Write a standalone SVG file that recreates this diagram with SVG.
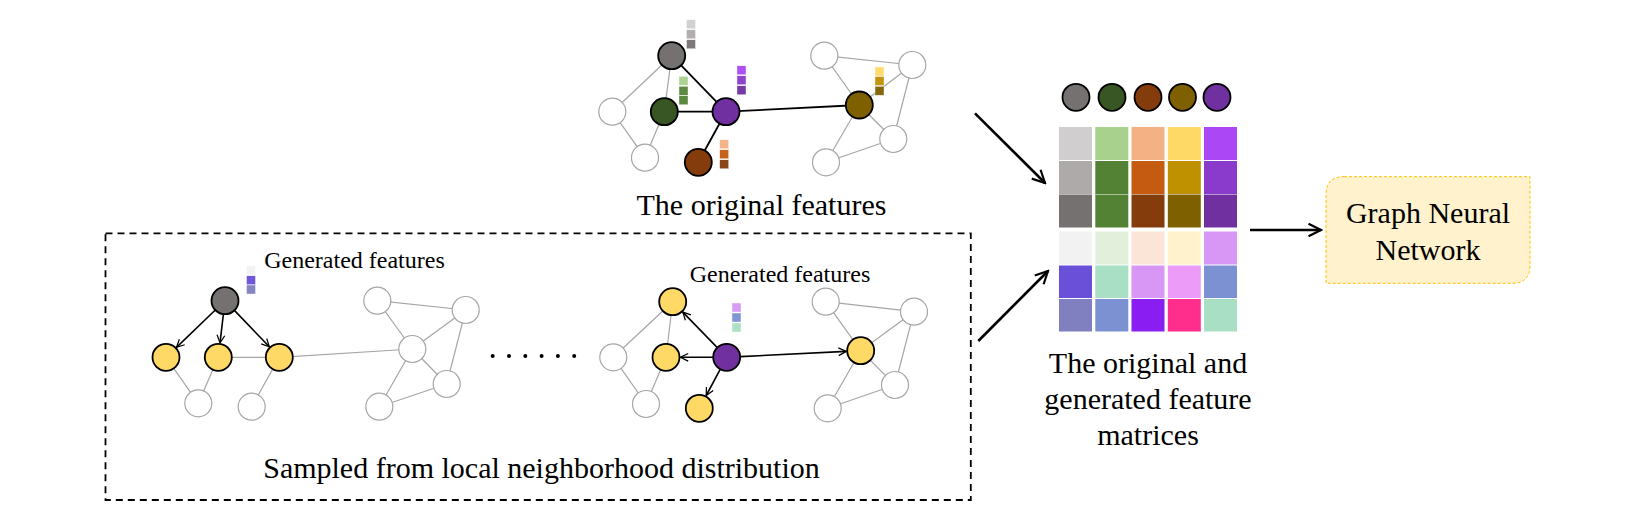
<svg xmlns="http://www.w3.org/2000/svg" width="1634" height="526" viewBox="0 0 1634 526" font-family="'Liberation Serif', 'Times New Roman', Tinos, 'DejaVu Serif', serif">
<defs>
<style>
text{font-family:'Liberation Serif','Times New Roman',Tinos,'DejaVu Serif',serif;fill:#000;text-anchor:middle}
.big{font-size:30px}
.small{font-size:24px}
.e{stroke:#a6a6a6;stroke-width:1.2;fill:none}
.k{stroke:#000;stroke-width:1.8;fill:none}
.n{stroke:#000;stroke-width:1.8}
.o{fill:#fff;stroke:#a6a6a6;stroke-width:1.2}
.a{stroke:#000;stroke-width:1.6;fill:none;marker-end:url(#v)}
.A{stroke:#000;stroke-width:2.6;fill:none;marker-end:url(#V)}
.f{stroke:#fff;stroke-width:0.4;opacity:0.95}
</style>
<marker id="v" viewBox="0 0 10 10" refX="9" refY="5" markerWidth="6" markerHeight="6" orient="auto" markerUnits="strokeWidth">
<path d="M1,1 L9,5 L1,9" fill="none" stroke="#000" stroke-width="1.3"/>
</marker>
<marker id="V" viewBox="0 0 10 10" refX="9" refY="5" markerWidth="6" markerHeight="6" orient="auto" markerUnits="strokeWidth">
<path d="M1,1 L9,5 L1,9" fill="none" stroke="#000" stroke-width="1.4"/>
</marker>
</defs>
<rect width="1634" height="526" fill="#fff"/>

<g id="connectors">
<line class="e" x1="671.7" y1="55.7" x2="612.3" y2="111.7"/>
<line class="e" x1="671.7" y1="55.7" x2="664.3" y2="111.7"/>
<line class="e" x1="612.3" y1="111.7" x2="645" y2="157.7"/>
<line class="e" x1="645" y1="157.7" x2="664.3" y2="111.7"/>
<line class="k" x1="671.7" y1="55.7" x2="726" y2="111.7"/>
<line class="k" x1="664.3" y1="111.7" x2="726" y2="111.7"/>
<line class="k" x1="726" y1="111.7" x2="698.3" y2="162.3"/>
<line class="k" x1="726" y1="111.7" x2="859.3" y2="105"/>
<line class="e" x1="824.3" y1="55.7" x2="912.3" y2="65"/>
<line class="e" x1="824.3" y1="55.7" x2="859.3" y2="105"/>
<line class="e" x1="912.3" y1="65" x2="859.3" y2="105"/>
<line class="e" x1="912.3" y1="65" x2="893.3" y2="139"/>
<line class="e" x1="859.3" y1="105" x2="893.3" y2="139"/>
<line class="e" x1="859.3" y1="105" x2="826" y2="162.3"/>
<line class="e" x1="826" y1="162.3" x2="893.3" y2="139"/>
<line class="e" x1="166" y1="357.3" x2="198.3" y2="403.3"/>
<line class="e" x1="218.3" y1="357.3" x2="198.3" y2="403.3"/>
<line class="e" x1="218.3" y1="357.3" x2="279.3" y2="357.3"/>
<line class="e" x1="279.3" y1="357.3" x2="251.7" y2="406.7"/>
<line class="e" x1="279.3" y1="357.3" x2="412.3" y2="349"/>
<line class="e" x1="377.3" y1="300.7" x2="465.7" y2="310"/>
<line class="e" x1="377.3" y1="300.7" x2="412.3" y2="349"/>
<line class="e" x1="465.7" y1="310" x2="412.3" y2="349"/>
<line class="e" x1="465.7" y1="310" x2="446.7" y2="384"/>
<line class="e" x1="412.3" y1="349" x2="446.7" y2="384"/>
<line class="e" x1="412.3" y1="349" x2="379.3" y2="406.7"/>
<line class="e" x1="379.3" y1="406.7" x2="446.7" y2="384"/>
<line class="a" x1="215.3" y1="310" x2="176.5" y2="347.3"/>
<line class="a" x1="223.4" y1="314.1" x2="220" y2="342.9"/>
<line class="a" x1="234.4" y1="310.4" x2="269.3" y2="346.8"/>
<line class="e" x1="613.3" y1="357.3" x2="672.7" y2="301.7"/>
<line class="e" x1="613.3" y1="357.3" x2="646" y2="404"/>
<line class="e" x1="672.7" y1="301.7" x2="666" y2="357.3"/>
<line class="e" x1="646" y1="404" x2="666" y2="357.3"/>
<line class="e" x1="825.7" y1="301.7" x2="914" y2="311.7"/>
<line class="e" x1="825.7" y1="301.7" x2="860.7" y2="350.7"/>
<line class="e" x1="914" y1="311.7" x2="860.7" y2="350.7"/>
<line class="e" x1="914" y1="311.7" x2="895" y2="385"/>
<line class="e" x1="860.7" y1="350.7" x2="895" y2="385"/>
<line class="e" x1="860.7" y1="350.7" x2="827.7" y2="408.3"/>
<line class="e" x1="827.7" y1="408.3" x2="895" y2="385"/>
<line class="a" x1="717.3" y1="347.6" x2="682.8" y2="312.1"/>
<line class="a" x1="713.2" y1="357.3" x2="680.5" y2="357.3"/>
<line class="a" x1="720.3" y1="369.2" x2="706.2" y2="395.5"/>
<line class="a" x1="740.2" y1="356.6" x2="846.2" y2="351.4"/>
<line class="A" x1="975" y1="113.3" x2="1045" y2="183"/>
<line class="A" x1="978.3" y1="341" x2="1048" y2="271"/>
<line class="A" x1="1250" y1="230" x2="1321" y2="230"/>
</g>

<g id="original-graph">
<circle class="o" cx="612.3" cy="111.7" r="13.5"/>
<circle class="o" cx="645" cy="157.7" r="13.5"/>
<circle class="o" cx="824.3" cy="55.7" r="13.5"/>
<circle class="o" cx="912.3" cy="65" r="13.5"/>
<circle class="o" cx="893.3" cy="139" r="13.5"/>
<circle class="o" cx="826" cy="162.3" r="13.5"/>
<circle class="n" cx="671.7" cy="55.7" r="13.5" fill="#767171"/>
<circle class="n" cx="664.3" cy="111.7" r="13.5" fill="#375623"/>
<circle class="n" cx="726" cy="111.7" r="13.5" fill="#7030a0"/>
<circle class="n" cx="698.3" cy="162.3" r="13.5" fill="#843c0c"/>
<circle class="n" cx="859.3" cy="105" r="13.5" fill="#7f6000"/>
<g id="feat-gray">
<rect class="f" x="686.5" y="19.8" width="9" height="9" fill="#d0cece"/>
<rect class="f" x="686.5" y="29.8" width="9" height="9" fill="#aeaaaa"/>
<rect class="f" x="686.5" y="39.8" width="9" height="9" fill="#767171"/>
</g>
<g id="feat-green">
<rect class="f" x="679" y="76.3" width="9" height="9" fill="#a9d18e"/>
<rect class="f" x="679" y="86.3" width="9" height="9" fill="#548235"/>
<rect class="f" x="679" y="95.8" width="9" height="9" fill="#548235"/>
</g>
<g id="feat-purple">
<rect class="f" x="737" y="65.8" width="9" height="9" fill="#ab47f5"/>
<rect class="f" x="737" y="75.8" width="9" height="9" fill="#8b3bcc"/>
<rect class="f" x="737" y="85.8" width="9" height="9" fill="#7030a0"/>
</g>
<g id="feat-brown">
<rect class="f" x="719.7" y="139.8" width="9" height="9" fill="#f4b183"/>
<rect class="f" x="719.7" y="149.8" width="9" height="9" fill="#c55a11"/>
<rect class="f" x="719.7" y="159.8" width="9" height="9" fill="#843c0c"/>
</g>
<g id="feat-olive">
<rect class="f" x="875" y="67" width="9" height="9" fill="#ffd966"/>
<rect class="f" x="875" y="76.5" width="9" height="9" fill="#bf9000"/>
<rect class="f" x="875" y="86.3" width="9" height="9" fill="#7f6000"/>
</g>
<text class="big" x="761.5" y="215">The original features</text>
</g>

<g id="sampled-box">
<rect x="105.5" y="233.3" width="865.3" height="266.7" fill="none" stroke="#000" stroke-width="1.8" stroke-dasharray="7,5"/>
<text class="big" x="541.5" y="478">Sampled from local neighborhood distribution</text>
</g>

<g id="sampled-left">
<circle class="o" cx="198.3" cy="403.3" r="13.5"/>
<circle class="o" cx="251.7" cy="406.7" r="13.5"/>
<circle class="o" cx="377.3" cy="300.7" r="13.5"/>
<circle class="o" cx="465.7" cy="310" r="13.5"/>
<circle class="o" cx="412.3" cy="349" r="13.5"/>
<circle class="o" cx="446.7" cy="384" r="13.5"/>
<circle class="o" cx="379.3" cy="406.7" r="13.5"/>
<circle class="n" cx="225" cy="300.7" r="13.5" fill="#767171"/>
<circle class="n" cx="166" cy="357.3" r="13.5" fill="#ffd966"/>
<circle class="n" cx="218.3" cy="357.3" r="13.5" fill="#ffd966"/>
<circle class="n" cx="279.3" cy="357.3" r="13.5" fill="#ffd966"/>
<rect class="f" x="246.5" y="265.8" width="9" height="9" fill="#f2f2f2"/>
<rect class="f" x="246.5" y="275.8" width="9" height="9" fill="#6a50d8"/>
<rect class="f" x="246.5" y="285" width="9" height="9" fill="#8080c0"/>
<text class="small" x="354.5" y="268">Generated features</text>
</g>

<g id="dots" fill="#000">
<circle cx="492.7" cy="356" r="2"/>
<circle cx="509" cy="356" r="2"/>
<circle cx="525.3" cy="356" r="2"/>
<circle cx="541.6" cy="356" r="2"/>
<circle cx="557.9" cy="356" r="2"/>
<circle cx="574.2" cy="356" r="2"/>
</g>

<g id="sampled-right">
<circle class="o" cx="613.3" cy="357.3" r="13.5"/>
<circle class="o" cx="646" cy="404" r="13.5"/>
<circle class="o" cx="825.7" cy="301.7" r="13.5"/>
<circle class="o" cx="914" cy="311.7" r="13.5"/>
<circle class="o" cx="895" cy="385" r="13.5"/>
<circle class="o" cx="827.7" cy="408.3" r="13.5"/>
<circle class="n" cx="672.7" cy="301.7" r="13.5" fill="#ffd966"/>
<circle class="n" cx="666" cy="357.3" r="13.5" fill="#ffd966"/>
<circle class="n" cx="699.3" cy="408.3" r="13.5" fill="#ffd966"/>
<circle class="n" cx="860.7" cy="350.7" r="13.5" fill="#ffd966"/>
<circle class="n" cx="726.7" cy="357.3" r="13.5" fill="#7030a0"/>
<rect class="f" x="732" y="303" width="9" height="9" fill="#d896f5"/>
<rect class="f" x="732" y="313" width="9" height="9" fill="#7b91d2"/>
<rect class="f" x="732" y="323" width="9" height="9" fill="#a9dfc4"/>
<text class="small" x="780" y="281.7">Generated features</text>
</g>

<g id="matrix">
<circle class="n" cx="1076" cy="97.3" r="13.5" fill="#767171"/>
<circle class="n" cx="1112" cy="97.3" r="13.5" fill="#375623"/>
<circle class="n" cx="1148" cy="97.3" r="13.5" fill="#843c0c"/>
<circle class="n" cx="1182.5" cy="97.3" r="13.5" fill="#7f6000"/>
<circle class="n" cx="1217" cy="97.3" r="13.5" fill="#7030a0"/>
<g id="orig-rows">
<rect x="1059" y="127" width="33" height="33" fill="#d0cece"/>
<rect x="1095.3" y="127" width="33" height="33" fill="#a9d18e"/>
<rect x="1131.5" y="127" width="33" height="33" fill="#f4b183"/>
<rect x="1167.8" y="127" width="33" height="33" fill="#ffd966"/>
<rect x="1204" y="127" width="33" height="33" fill="#ab47f5"/>
<rect x="1059" y="161" width="33" height="33" fill="#aeaaaa"/>
<rect x="1095.3" y="161" width="33" height="33" fill="#548235"/>
<rect x="1131.5" y="161" width="33" height="33" fill="#c55a11"/>
<rect x="1167.8" y="161" width="33" height="33" fill="#bf9000"/>
<rect x="1204" y="161" width="33" height="33" fill="#8b3bcc"/>
<rect x="1059" y="194.5" width="33" height="33" fill="#767171"/>
<rect x="1095.3" y="194.5" width="33" height="33" fill="#548235"/>
<rect x="1131.5" y="194.5" width="33" height="33" fill="#843c0c"/>
<rect x="1167.8" y="194.5" width="33" height="33" fill="#7f6000"/>
<rect x="1204" y="194.5" width="33" height="33" fill="#7030a0"/>
</g>
<g id="gen-rows">
<rect x="1059" y="231.5" width="33" height="33" fill="#f2f2f2"/>
<rect x="1095.3" y="231.5" width="33" height="33" fill="#e2efda"/>
<rect x="1131.5" y="231.5" width="33" height="33" fill="#fbe5d6"/>
<rect x="1167.8" y="231.5" width="33" height="33" fill="#fff2cc"/>
<rect x="1204" y="231.5" width="33" height="33" fill="#d896f5"/>
<rect x="1059" y="265.5" width="33" height="32.5" fill="#6a50d8"/>
<rect x="1095.3" y="265.5" width="33" height="32.5" fill="#a9dfc4"/>
<rect x="1131.5" y="265.5" width="33" height="32.5" fill="#d896f5"/>
<rect x="1167.8" y="265.5" width="33" height="32.5" fill="#ec9cf8"/>
<rect x="1204" y="265.5" width="33" height="32.5" fill="#7b91d2"/>
<rect x="1059" y="299" width="33" height="32.5" fill="#8080c0"/>
<rect x="1095.3" y="299" width="33" height="32.5" fill="#7b91d2"/>
<rect x="1131.5" y="299" width="33" height="32.5" fill="#8a1ef2"/>
<rect x="1167.8" y="299" width="33" height="32.5" fill="#ff2d8c"/>
<rect x="1204" y="299" width="33" height="32.5" fill="#a9dfc4"/>
</g>
<text class="big" x="1148" y="373">The original and</text>
<text class="big" x="1148" y="409">generated feature</text>
<text class="big" x="1148" y="445">matrices</text>
</g>

<g id="gnn">
<path d="M1344,176.7 H1530 V265.3 Q1530,283.3 1512,283.3 H1326 V194.7 Q1326,176.7 1344,176.7 Z" fill="#fff2cc" stroke="#ffc000" stroke-width="1" stroke-dasharray="3,2"/>
<text class="big" x="1428" y="223.3">Graph Neural</text>
<text class="big" x="1428" y="260">Network</text>
</g>
</svg>
